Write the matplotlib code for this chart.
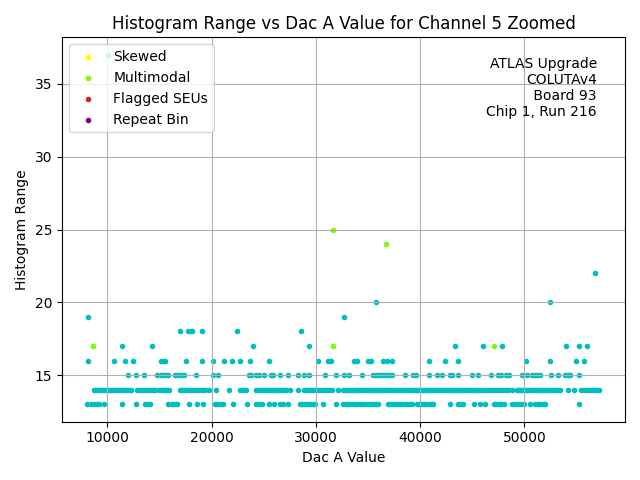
import matplotlib
matplotlib.use("Agg")
import matplotlib.pyplot as plt

# points per histogram range (Dac A values)
range_13 = [8100, 8400, 8700, 9000, 9230, 9644, 11375, 12721, 13650, 13880, 14100,
            15798, 16180, 16420, 16660, 17817, 18625, 19163, 20290, 20550, 20800,
            21090, 22048, 23394, 24300, 24550, 24875, 25509, 25990, 26540, 26850,
            27336, 28460, 28700, 28950, 29200, 29450, 29700, 29900, 30644, 31922,
            32620, 32850, 33080, 33300, 33520, 33750, 33980, 34200, 34420, 34650,
            34880, 35100, 35320, 35550, 35780, 35990, 36950, 37180, 37400, 37630,
            37860, 38080, 38300, 38530, 38760, 38980, 39200, 39680, 39900, 40130,
            40360, 40590, 40820, 41000, 41220, 42850, 43680, 43880, 44070, 45190,
            45700, 46248, 47050, 47300, 47550, 47800, 48010, 48820, 49100, 49380,
            49650, 49930, 50575, 51060, 51300, 51550, 51800, 52020, 55219]
range_14 = [8750, 8950, 9150, 9350, 9550, 9875, 10075, 10275, 10475, 10675, 10875,
            11075, 11300, 11570, 11800, 12050, 12280, 12820, 13050, 13280, 13500,
            13720, 13940, 14160, 14380, 14615, 14930, 15170, 15400, 15640, 15961,
            16990, 17200, 17410, 17620, 17830, 18040, 18250, 18460, 18780, 19090,
            19400, 19710, 20451, 21663, 22690, 22900, 23120, 23340, 24300, 24500,
            24700, 24875, 25100, 25300, 25500, 25700, 25900, 26100, 26300, 26500,
            26700, 26950, 27180, 27499, 28297, 28870, 29120, 29370, 29620, 29900,
            30220, 30470, 30720, 30970, 31250, 31510, 32143,
            32570, 32760, 32980, 33170, 33360, 33580, 33770, 33960, 34180, 34370,
            34560, 34780, 34970, 35160, 35380, 35570, 35760, 35980, 36170, 36360,
            36580, 36770, 36960, 37180, 37370, 37560, 37780, 37970, 38160, 38380,
            38570, 38760, 38980, 39170, 39360, 39580, 39770, 39960, 40180, 40370,
            40560, 40780, 40970, 41160, 41380, 41570, 41760, 41980, 42170, 42360,
            42580, 42770, 42960, 43180, 43370, 43560, 43780, 43970, 44160, 44380,
            44570, 44760, 44980, 45170, 45360, 45580, 45770, 45960, 46180, 46370,
            46570, 46890, 47210, 47450, 47700, 47950, 48200, 48450, 48820, 49300,
            49500, 49700, 49900, 50100, 50300, 50500, 50700, 50900, 51100, 51300,
            51500, 51700, 51900, 52100, 52300, 52500, 52700, 52900, 53100, 53460,
            54163, 54807, 55450, 55700, 55950, 56200, 56450, 56700, 56950, 57200]
range_15 = [11952, 12721, 13490, 14740, 15163, 15384, 15548, 15702, 15865, 16509,
            16702, 16923, 17144, 17404, 18529, 20163, 20605, 23557, 23817, 24298,
            24548, 25028, 25740, 25894, 26538, 27336, 28297, 28874, 29355, 30893,
            31951, 32720, 33201, 34451, 35509, 35739, 35932, 36153, 36412, 36634,
            36855, 37114, 37336, 38557, 39355, 39614, 40893, 41605, 42143, 42883,
            43105, 43681, 44970, 45508, 46758, 47498, 47787, 48268, 48556, 49777,
            50258, 50739, 50989, 51220, 51470, 52594, 53200, 53941, 54200, 54421,
            55219]
range_16 = [8106, 10606, 11702, 12433, 15163, 15385, 15548, 17567, 19067, 20163,
            21183, 21952, 22721, 23683, 25510, 30163, 31183, 31413, 33683, 33913,
            35028, 35259, 36471, 36798, 37279, 40894, 42433, 43683, 50163, 52433,
            54933, 55702]
range_17 = [11375, 14260, 23970, 29356, 43394, 45990, 47817, 53971, 55221, 55990]
range_18 = [17019, 17721, 17980, 18144, 19067, 22433, 28587]
range_19 = [8106, 32692]
range_20 = [35798, 52433]
range_22 = [56731]
range_37 = [10030]

multimodal_x = [8587, 31663, 47048, 31634, 36760]
multimodal_y = [17, 17, 17, 25, 24]

skewed_x, skewed_y = [], []
seu_x, seu_y = [], []
repeat_x, repeat_y = [], []

rows = {13: range_13, 14: range_14, 15: range_15, 16: range_16, 17: range_17,
        18: range_18, 19: range_19, 20: range_20, 22: range_22, 37: range_37}
xs = []
ys = []
for r, vals in rows.items():
    xs += vals
    ys += [r] * len(vals)

fig, ax = plt.subplots(figsize=(6.4, 4.8), dpi=100)
ax.scatter(xs, ys, s=9, color='c')
ax.scatter(skewed_x, skewed_y, s=9, color='yellow', label='Skewed')
ax.scatter(multimodal_x, multimodal_y, s=9, color='lawngreen', label='Multimodal')
ax.scatter(seu_x, seu_y, s=9, color='tab:red', label='Flagged SEUs')
ax.scatter(repeat_x, repeat_y, s=9, color='purple', label='Repeat Bin')

ax.set_title("Histogram Range vs Dac A Value for Channel 5 Zoomed")
ax.set_xlabel("Dac A Value")
ax.set_ylabel("Histogram Range")
ax.grid(True)
ax.legend(loc='upper left')
ax.text(0.95, 0.95, "ATLAS Upgrade\nCOLUTAv4\n Board 93\nChip 1, Run 216",
        transform=ax.transAxes, ha='right', va='top')
fig.tight_layout()
fig.savefig("out.png")
